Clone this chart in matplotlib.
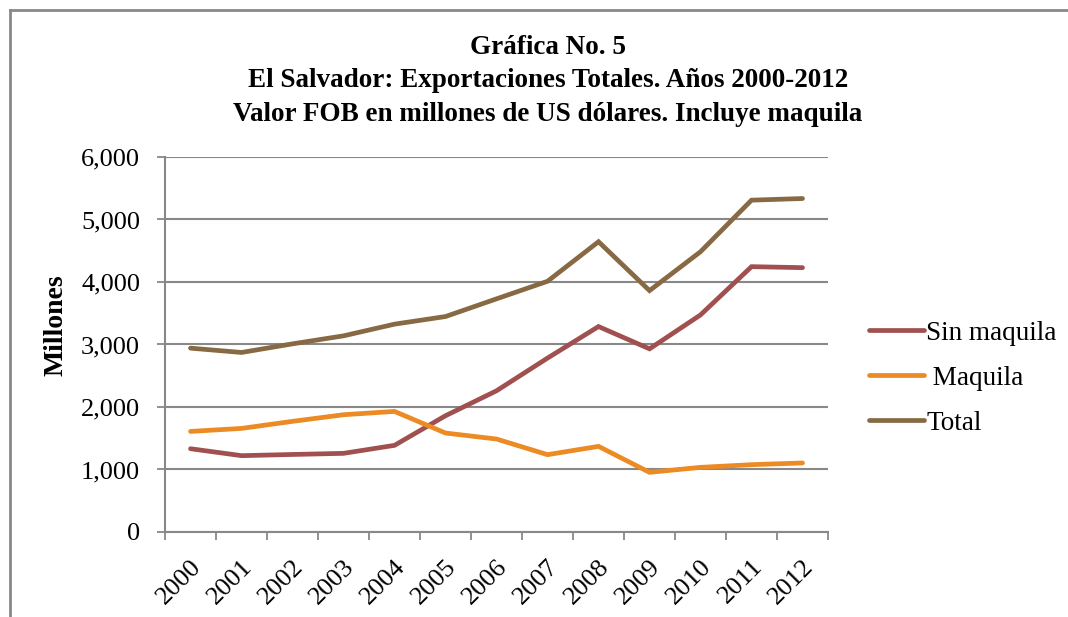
import numpy as np
import matplotlib
matplotlib.use("Agg")
import matplotlib.pyplot as plt
from matplotlib.lines import Line2D
from matplotlib.ticker import FuncFormatter, FixedLocator

years = ["2000", "2001", "2002", "2003", "2004", "2005", "2006",
         "2007", "2008", "2009", "2010", "2011", "2012"]
sin_maquila = [1332, 1221, 1240, 1258, 1386, 1860, 2259, 2782, 3287, 2930, 3473, 4245, 4229]
maquila = [1609, 1657, 1770, 1876, 1929, 1583, 1487, 1237, 1370, 954, 1034, 1077, 1104]
total = [2941, 2872, 3010, 3138, 3325, 3447, 3730, 4011, 4644, 3862, 4484, 5309, 5335]

series_names = ["Sin maquila", " Maquila", "Total"]
colors = ["#A0504F", "#EC8A23", "#876943"]
grid_gray = "#888888"

plt.rcParams["font.family"] = ["Liberation Serif", "DejaVu Serif"]

fig = plt.figure(figsize=(10.68, 6.17), dpi=100)
ax = fig.add_axes([0.1545, 0.1378, 0.6208, 0.6078])

x = np.arange(len(years))
for name, vals, c in zip(series_names, [sin_maquila, maquila, total], colors):
    ax.plot(x, vals, color=c, lw=3.4, label=name, solid_capstyle="round",
            solid_joinstyle="miter")

ax.set_xlim(-0.5, len(years) - 0.5)
ax.set_ylim(0, 6000)
ax.set_yticks(np.arange(0, 6001, 1000))
ax.yaxis.set_major_formatter(FuncFormatter(lambda v, p: f"{int(v):,}"))
ax.yaxis.grid(True, color=grid_gray, lw=1.5)
ax.set_axisbelow(True)

# tick marks between categories, labels at centres
ax.xaxis.set_major_locator(FixedLocator(np.arange(-0.5, len(years), 1)))
ax.xaxis.set_minor_locator(FixedLocator(x))
ax.set_xticklabels([])
ax.set_xticklabels(years, minor=True, rotation=45, ha="right", va="top",
                   rotation_mode="anchor", fontsize=19)
ax.tick_params(axis="x", which="major", length=6, width=1.3, color=grid_gray)
ax.tick_params(axis="x", which="minor", length=0, pad=17)
ax.tick_params(axis="y", length=6, width=1.3, color=grid_gray, labelsize=19, pad=12)

for s in ["top", "right"]:
    ax.spines[s].set_visible(False)
for s in ["left", "bottom"]:
    ax.spines[s].set_color(grid_gray)
    ax.spines[s].set_linewidth(1.5)

fig.text(0.513, 0.869,
         "Gráfica No. 5\nEl Salvador: Exportaciones Totales. Años 2000-2012\n"
         "Valor FOB en millones de US dólares. Incluye maquila",
         ha="center", va="center", fontsize=19.5, fontweight="bold",
         linespacing=1.45)
fig.text(0.052, 0.473, "Millones", rotation=90, ha="center", va="center",
         fontsize=20, fontweight="bold")

leg = ax.legend(loc="center left", bbox_to_anchor=(1.046, 0.41), frameon=False,
                fontsize=19.5, handlelength=2.0, handletextpad=0.1,
                labelspacing=0.74, borderaxespad=0)

# outer chart border (only top and left visible in the crop)
fig.add_artist(Line2D([0.0094, 0.0094], [0.0, 0.984], transform=fig.transFigure,
                      color=grid_gray, lw=2))
fig.add_artist(Line2D([0.0094, 1.0], [0.984, 0.984], transform=fig.transFigure,
                      color=grid_gray, lw=2))

fig.savefig("out.png", dpi=100)
